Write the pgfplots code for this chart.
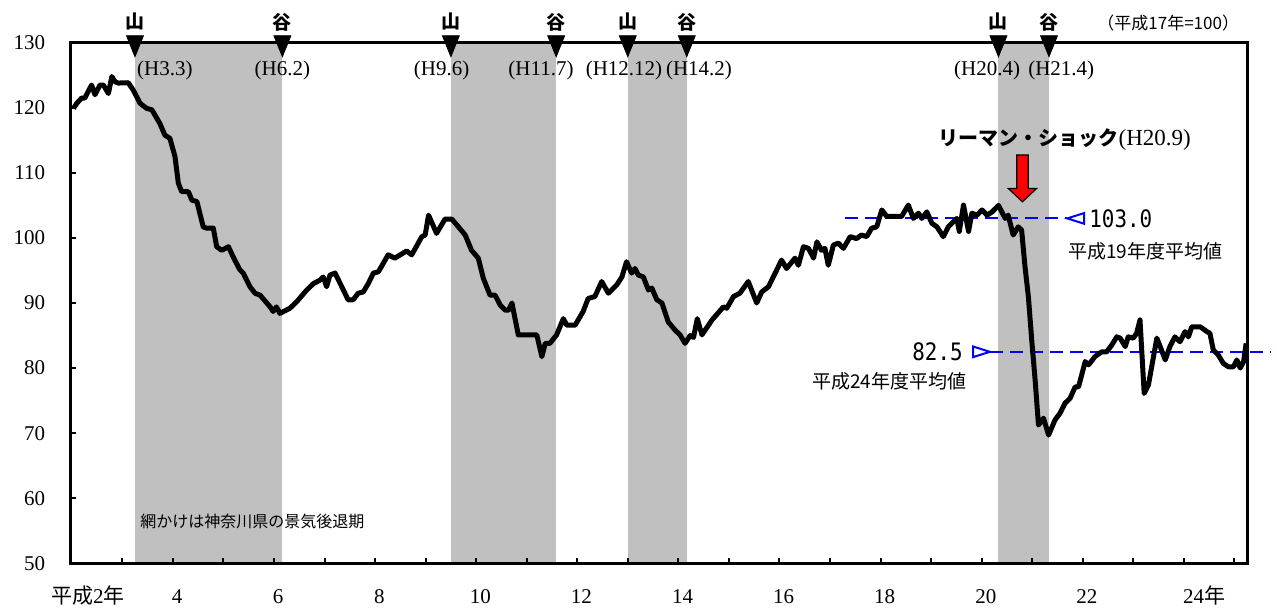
\documentclass[border=0pt]{standalone}
\usepackage{fontspec}
\setmainfont{Liberation Serif}
\newfontfamily\jp{Noto Sans CJK JP}
\newfontfamily\mono{DejaVu Sans Mono}
\usepackage{graphicx}
\usepackage{pgfplots}
\usepackage{pgfplotstable}
\pgfplotsset{compat=1.18}
\definecolor{shade}{RGB}{192,192,192}

% Monthly index: 0 = January of Heisei 2, one unit per month
\pgfplotstableread{
x y
-0.6 119.9
0.2 120.7
1.35 121.5
2.1 121.5
3.7 123.5
4.5 122.0
5.7 123.5
6.5 123.5
7.7 122.2
8.5 124.8
9.3 124.0
10.0 123.8
12.4 123.85
13.6 122.7
15.2 120.7
16.8 119.9
18.0 119.7
19.9 117.6
21.1 115.8
22.3 115.3
23.5 112.5
24.3 108.4
25.1 107.1
26.7 107.1
27.5 105.8
28.7 105.6
30.2 101.7
31.0 101.5
32.6 101.5
33.4 98.65
34.6 98.1
36.2 98.65
37.3 97.1
38.9 95.1
39.7 94.6
41.3 92.5
42.5 91.5
43.7 91.2
46.1 89.4
46.8 88.7
47.6 89.4
48.4 88.4
49.6 88.8
50.8 89.2
52.4 90.2
54.8 92.0
56.4 93.0
57.9 93.5
58.7 94.0
59.5 92.5
60.3 94.3
61.5 94.6
63.1 92.5
64.6 90.5
65.8 90.5
67.0 91.5
68.2 91.7
69.4 93.0
70.6 94.6
71.8 94.8
74.1 97.4
75.7 96.9
78.5 98.0
79.7 97.4
82.1 100.2
82.9 100.45
83.7 103.5
85.6 100.7
87.6 102.9
89.2 102.9
90.8 101.7
92.4 100.45
93.9 98.1
95.5 96.9
96.7 93.8
98.3 91.2
99.5 91.2
100.7 89.7
101.9 88.9
102.7 88.9
103.5 90.0
105.0 85.1
106.2 85.1
107.8 85.1
109.4 85.1
110.6 81.75
111.4 83.8
112.5 83.8
114.1 85.1
115.7 87.6
116.5 86.6
118.5 86.6
120.4 88.7
121.6 90.7
123.2 91.0
124.8 93.3
126.4 91.5
128.4 92.8
129.6 94.0
130.7 96.35
131.9 94.6
132.7 95.3
133.5 94.3
134.7 94.0
135.9 92.0
136.7 92.3
137.9 90.5
139.1 90.0
140.6 87.1
142.2 85.85
143.4 85.1
144.6 83.8
145.8 85.0
146.6 84.7
147.5 87.6
148.6 85.1
151.0 87.4
153.7 89.4
154.5 89.2
156.1 91.0
157.6 91.5
159.6 93.3
161.6 90.0
162.8 91.7
164.4 92.5
166.0 94.6
167.5 96.6
168.7 95.3
170.7 96.9
171.5 95.8
172.7 98.65
173.9 98.4
175.1 96.9
175.9 99.4
177.0 98.1
177.8 98.4
178.6 95.8
179.8 98.9
181.0 99.2
182.2 98.4
183.8 100.2
185.3 99.9
186.5 100.45
187.7 100.2
188.9 101.5
190.1 101.7
191.3 104.3
192.5 103.3
193.7 103.3
196.0 103.3
197.6 105.05
198.8 103.0
200.0 103.8
200.8 103.0
202.0 104.0
203.2 102.25
204.4 101.7
205.9 100.2
207.1 101.7
208.3 102.5
209.1 103.0
209.7 101.0
210.7 105.05
211.9 101.0
212.7 103.8
213.9 103.5
215.1 104.3
216.3 103.5
217.5 104.0
219.0 105.0
220.6 103.0
221.3 103.5
222.5 100.45
223.7 101.7
224.5 101.2
225.3 95.6
226.1 91.0
226.9 84.3
227.7 78.2
228.5 71.25
229.7 72.3
230.9 69.7
232.4 72.0
233.6 73.05
234.8 74.6
236.0 75.35
237.2 77.1
238.0 77.1
239.6 81.0
240.4 80.5
241.9 81.75
243.5 82.5
244.7 82.5
245.9 83.55
247.1 84.8
247.9 84.6
249.1 83.3
249.8 84.8
251.0 84.6
251.8 85.35
252.6 87.4
253.6 76.1
254.6 77.4
256.6 84.6
257.4 83.3
258.6 81.25
259.7 83.3
260.9 84.8
262.1 84.05
263.3 85.6
264.1 84.8
264.9 86.35
266.9 86.35
268.5 85.6
269.2 85.35
270.0 82.8
271.2 82.0
272.4 80.7
273.6 80.2
274.8 80.2
275.6 81.25
276.4 80.0
277.2 81.0
277.8 83.8
}\idxdata

\begin{document}
\begin{tikzpicture}
\begin{axis}[
  at={(0,0)}, anchor=south west,
  scale only axis, width=588.5pt, height=260.3pt,
  xmin=-1.306, xmax=278.13, ymin=50, ymax=130,
  clip=false, axis on top,
  axis line style={line width=1.5pt},
  tick align=inside,
  xtick pos=lower, ytick pos=left,
  % labels sit on zero-length major ticks; the visible ticks are minor ticks
  xtick={2.8,24,48,72,96,120,144,168,192,216,240,267.8},
  xticklabels={{{\jp 平成}2{\jp 年}},4,6,8,10,12,14,16,18,20,22,{24{\jp 年}}},
  minor xtick={11,23,...,275},
  ytick={50,60,...,130},
  minor ytick={50,60,...,130},
  major tick length=0pt,
  minor tick length=2.6pt,
  every tick/.style={black, line width=1pt},
  tick label style={font=\fontsize{10.5pt}{12pt}\selectfont},
  /pgf/number format/assume math mode=true,
  xticklabel style={anchor=base, yshift=-20pt},
  yticklabel style={anchor=east, xshift=-9.2pt},
]
% recession periods
\addplot[fill=shade, draw=none] coordinates {(14,50) (14,130) (49,130) (49,50)} -- cycle;
\addplot[fill=shade, draw=none] coordinates {(89,50) (89,130) (114,130) (114,50)} -- cycle;
\addplot[fill=shade, draw=none] coordinates {(131,50) (131,130) (145,130) (145,50)} -- cycle;
\addplot[fill=shade, draw=none] coordinates {(219,50) (219,130) (231,130) (231,50)} -- cycle;

% fiscal-year averages
\addplot[blue, line width=1pt, dash pattern=on 6.5pt off 3.5pt] coordinates {(182.6,103.0) (235.3,103.0)};
\addplot[blue, line width=1pt, dash pattern=on 6.5pt off 3.5pt] coordinates {(217.0,82.5) (283.5,82.5)};
\addplot[blue, only marks, mark=triangle, mark size=5.6pt,
  mark options={solid, fill=white, line width=1pt, rotate=90, xscale=0.55}] coordinates {(238.0,103.0)};
\addplot[blue, only marks, mark=triangle, mark size=5.6pt,
  mark options={solid, fill=white, line width=1pt, rotate=-90, xscale=0.55}] coordinates {(214.3,82.5)};

% index
\addplot[black, line width=2.5pt, line join=round] table {\idxdata};

% peak / trough markers
\addplot[black, only marks, mark=triangle*, mark size=7pt,
  mark options={rotate=180, xscale=0.7}] coordinates {(14,130) (49,130) (89,130) (114,130) (131,130) (145,130) (219,130) (231,130)};

\begin{scope}[every node/.style={font=\jp\bfseries\fontsize{9.5pt}{11pt}\selectfont}]
\node at (axis cs:14,133.2) {山};
\node at (axis cs:49,133.2) {谷};
\node at (axis cs:89,133.2) {山};
\node at (axis cs:114,133.2) {谷};
\node at (axis cs:131,133.2) {山};
\node at (axis cs:145,133.2) {谷};
\node at (axis cs:219,133.2) {山};
\node at (axis cs:231,133.2) {谷};
\end{scope}
\begin{scope}[every node/.style={font=\fontsize{10.5pt}{12pt}\selectfont}]
\node at (axis cs:21.1,125.8) {(H3.3)};
\node at (axis cs:49.0,125.8) {(H6.2)};
\node at (axis cs:86.8,125.8) {(H9.6)};
\node at (axis cs:110.4,125.8) {(H11.7)};
\node at (axis cs:130.1,125.8) {(H12.12)};
\node at (axis cs:147.9,125.8) {(H14.2)};
\node at (axis cs:216.3,125.8) {(H20.4)};
\node at (axis cs:233.9,125.8) {(H21.4)};
\end{scope}

\node[font=\jp\fontsize{8.5pt}{10pt}\selectfont] at (axis cs:259.3,133.0) {（平成17年=100）};
\node[anchor=west, inner sep=0pt, font=\jp\fontsize{8pt}{10pt}\selectfont] at (axis cs:15.2,56.5) {網かけは神奈川県の景気後退期};

% Lehman shock annotation
\node[anchor=west, inner sep=0pt] at (axis cs:204.7,115.05)
  {{\jp\bfseries\fontsize{10pt}{12pt}\selectfont リーマン・ショック}{\fontsize{11.5pt}{13pt}\selectfont(H20.9)}};
\draw[fill=red, draw=black, line width=0.6pt]
  (axis cs:223.32,112.75) -- (axis cs:223.32,107.6) -- (axis cs:221.33,107.6) -- (axis cs:224.7,105.55)
  -- (axis cs:228.07,107.6) -- (axis cs:226.08,107.6) -- (axis cs:226.08,112.75) -- cycle;

\node[anchor=west, inner sep=0pt] at (axis cs:240.5,103.0)
  {\scalebox{0.87}[1]{\mono\fontsize{12pt}{14pt}\selectfont 103.0}};
\node[anchor=west, inner sep=0pt, font=\jp\fontsize{9.5pt}{11pt}\selectfont] at (axis cs:235.5,97.9) {平成19年度平均値};
\node[anchor=east, inner sep=0pt] at (axis cs:210.6,82.5)
  {\scalebox{0.87}[1]{\mono\fontsize{12pt}{14pt}\selectfont 82.5}};
\node[anchor=west, inner sep=0pt, font=\jp\fontsize{9.5pt}{11pt}\selectfont] at (axis cs:174.7,77.9) {平成24年度平均値};
\end{axis}
\pgfresetboundingbox
\path[use as bounding box] (-35.25pt,-23.35pt) rectangle (603.25pt,281.65pt);
\end{tikzpicture}
\end{document}
